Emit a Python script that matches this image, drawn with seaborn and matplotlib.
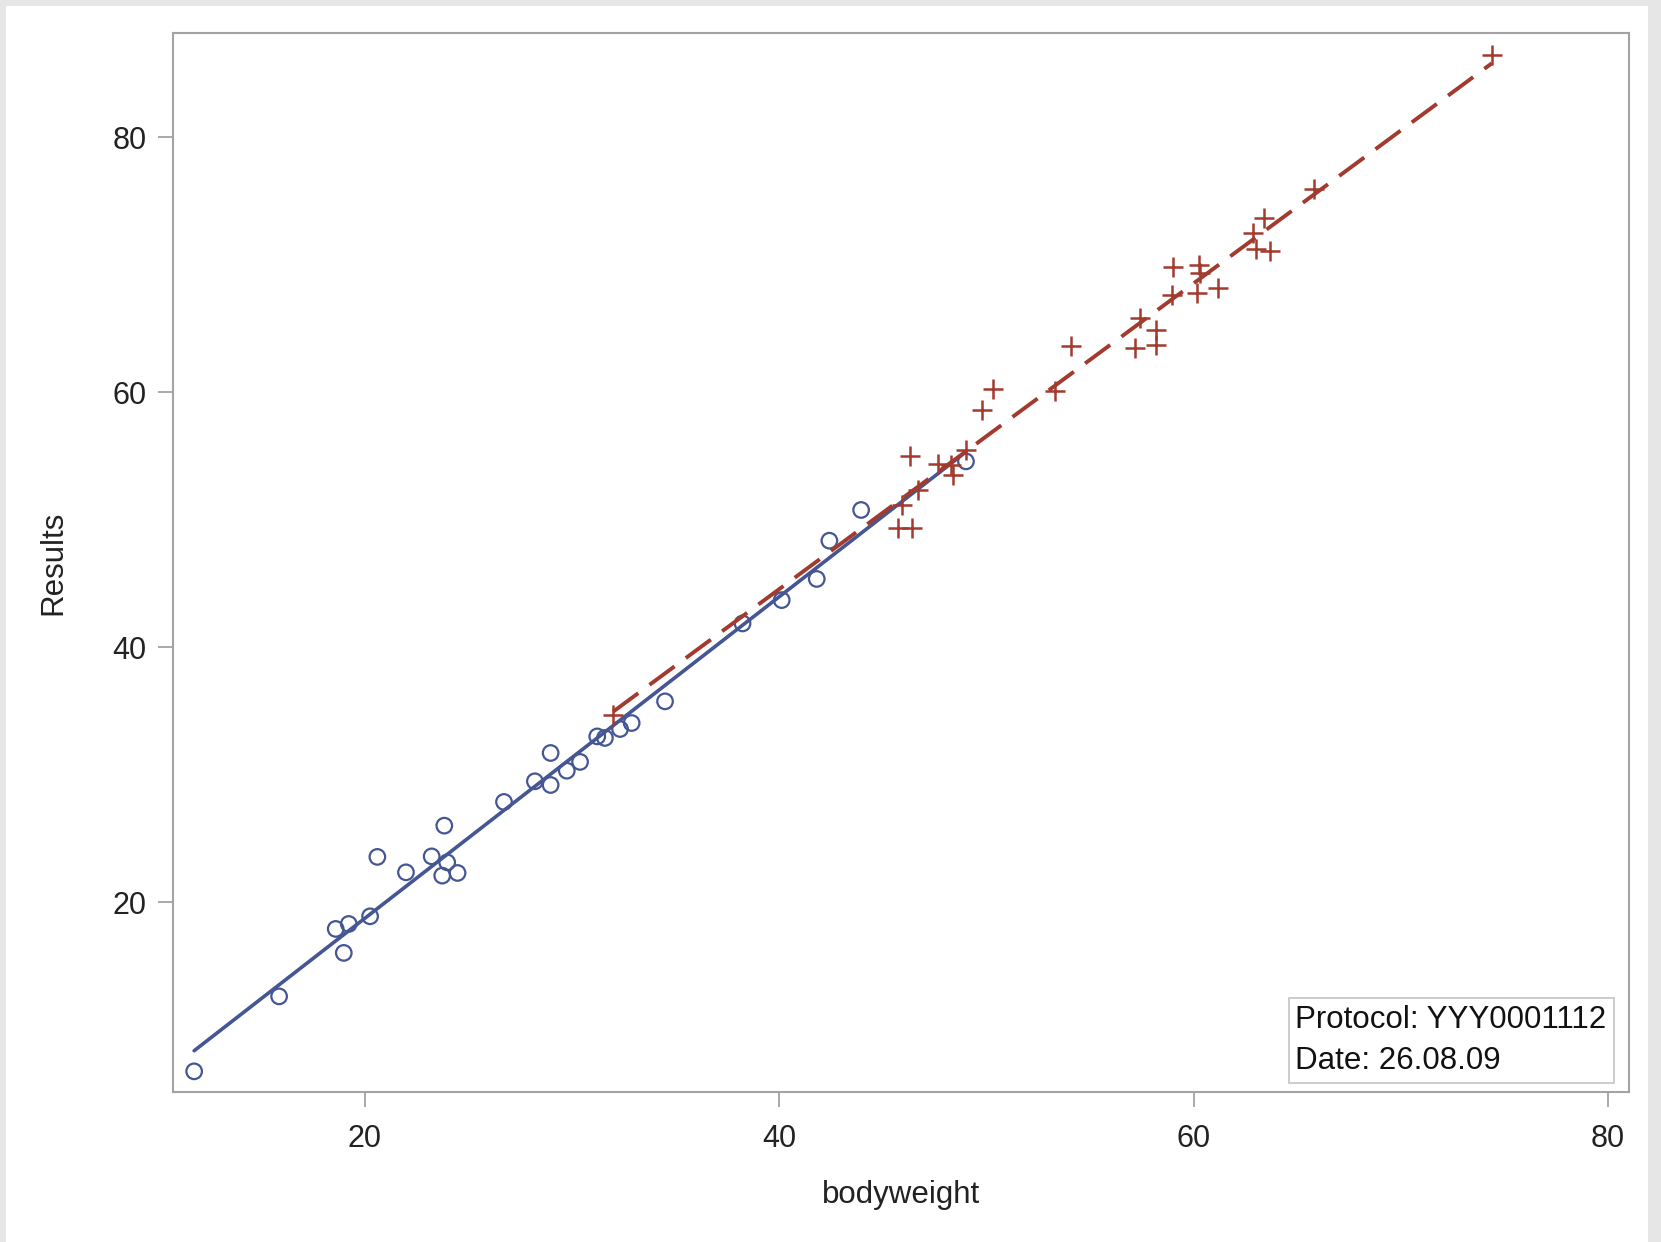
import matplotlib
matplotlib.use("Agg")
import matplotlib.pyplot as plt
from matplotlib.patches import Rectangle
import pandas as pd
import seaborn as sns

# Group 1: open circles with solid regression line
group1_bodyweight = [11.78, 15.88, 18.61, 19.00, 19.24, 20.27, 20.62, 22.00, 23.24, 23.75,
                     23.85, 23.99, 24.49, 26.73, 28.22, 28.98, 28.98, 29.76, 30.40, 31.23,
                     31.60, 32.33, 32.89, 34.50, 38.24, 40.13, 41.82, 42.43, 43.96, 49.02]
group1_results = [6.73, 12.61, 17.90, 16.02, 18.29, 18.89, 23.55, 22.34, 23.59, 22.08,
                  26.00, 23.12, 22.29, 27.86, 29.48, 31.70, 29.19, 30.31, 31.00, 33.00,
                  32.88, 33.58, 34.05, 35.75, 41.86, 43.69, 45.35, 48.35, 50.76, 54.57]

# Group 2: plus markers with dashed regression line
group2_bodyweight = [32.00, 45.75, 46.40, 45.91, 46.72, 46.31, 47.68, 48.30, 48.40, 49.02,
                     49.77, 50.33, 53.31, 54.07, 57.17, 57.41, 58.18, 58.18, 58.94, 59.02,
                     60.18, 60.27, 60.30, 61.19, 62.88, 63.00, 63.41, 63.68, 65.80, 74.39]
group2_results = [34.71, 49.35, 49.35, 51.18, 52.35, 54.97, 54.39, 54.30, 53.50, 55.43,
                  58.63, 60.25, 60.06, 63.59, 63.47, 65.82, 64.90, 63.73, 67.65, 69.82,
                  67.78, 70.00, 69.35, 68.17, 72.49, 71.23, 73.66, 71.04, 75.90, 86.47]

tick_values = [20, 40, 60, 80]
note_lines = ["Protocol: YYY0001112", "Date: 26.08.09"]

blue = "#445694"
red = "#A23A2E"
frame_gray = "#a3a3a3"

sns.set_theme(style="white")
plt.rcParams["font.family"] = ["Liberation Sans", "DejaVu Sans"]

g1 = pd.DataFrame({"bodyweight": group1_bodyweight, "Results": group1_results})
g2 = pd.DataFrame({"bodyweight": group2_bodyweight, "Results": group2_results})

W, H = 1661, 1242
fig = plt.figure(figsize=(W / 100, H / 100), dpi=100)
fig.patch.set_facecolor("#e6e6e6")
fig.add_artist(Rectangle((6 / W, 0), (1648 - 6) / W, 1236 / H,
                         transform=fig.transFigure, facecolor="white",
                         edgecolor="none", zorder=0))

ax = fig.add_axes([173 / W, (H - 1092) / H, (1629 - 173) / W, (1092 - 33) / H])
ax.set_facecolor("white")

sns.regplot(data=g1, x="bodyweight", y="Results", ax=ax, ci=None, color=blue,
            marker="o",
            scatter_kws={"facecolors": "none", "s": 125, "linewidths": 1.6,
                         "alpha": 1, "zorder": 3},
            line_kws={"linewidth": 2.6, "zorder": 2})

sns.regplot(data=g2, x="bodyweight", y="Results", ax=ax, ci=None, color=red,
            marker="+",
            scatter_kws={"s": 210, "linewidths": 1.8, "alpha": 1, "zorder": 3},
            line_kws={"linewidth": 2.8, "linestyle": (0, (8, 3.6)), "zorder": 4})

ax.set_xlim(10.76, 81.01)
ax.set_ylim(5.11, 88.17)
ax.set_xticks(tick_values)
ax.set_yticks(tick_values)

for side, spine in ax.spines.items():
    spine.set_visible(True)
    spine.set_color(frame_gray)
    spine.set_linewidth(1.5)

ax.tick_params(axis="both", which="major", bottom=True, left=True,
               direction="out", length=11, width=1.3,
               color=frame_gray, labelsize=22, labelcolor="#222222", pad=8)
ax.tick_params(axis="x", pad=12)

ax.set_xlabel("bodyweight", fontsize=22.5, color="#222222", labelpad=19)
ax.set_ylabel("Results", fontsize=22.5, color="#222222", labelpad=32)

ax.text(0.9847, 0.015, "\n".join(note_lines), transform=ax.transAxes,
        ha="right", va="bottom", multialignment="left", fontsize=22.5,
        color="#111111", linespacing=1.5, zorder=6,
        bbox=dict(boxstyle="square,pad=0.22", facecolor="white",
                  edgecolor="#c8c8c8", linewidth=1.3))

fig.savefig("out.png", dpi=100, facecolor=fig.get_facecolor())
